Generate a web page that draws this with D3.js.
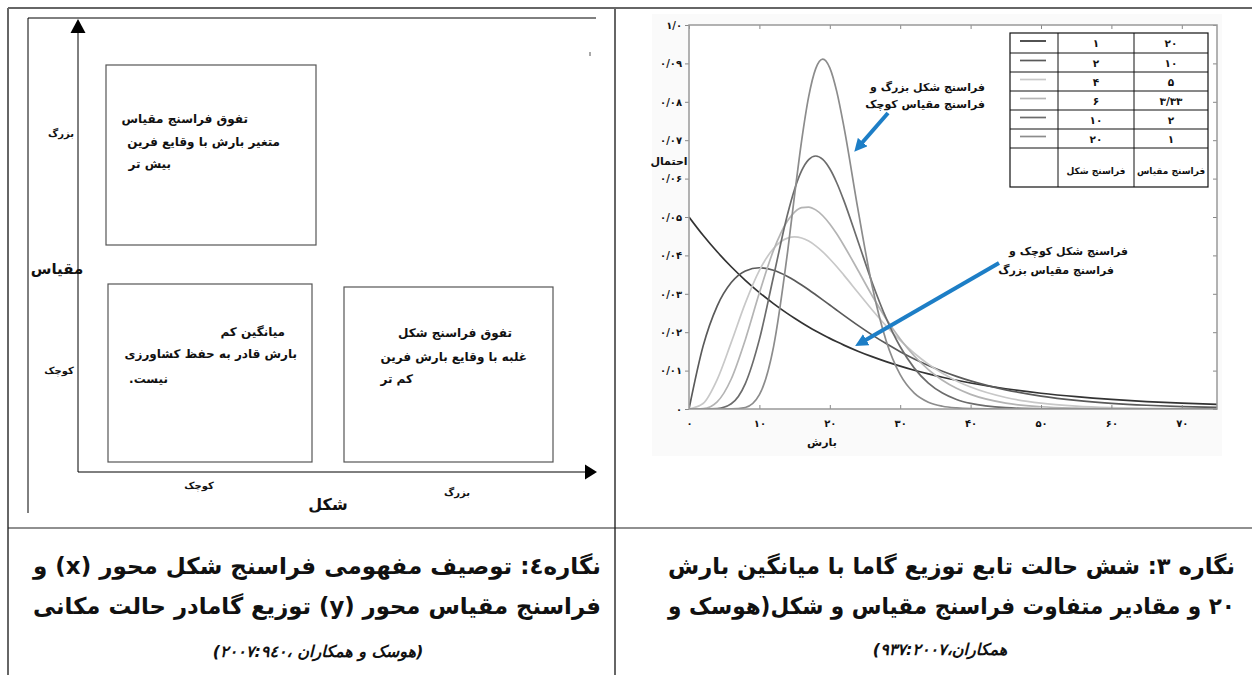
<!DOCTYPE html>
<meta charset="utf-8" />
<style>
  body { margin: 0; background: #fff; }
  text { font-family: "DejaVu Sans", sans-serif; fill: #111; }
  .fa { direction: rtl; font-weight: bold; }
</style>
<svg width="1252" height="675"></svg>
<script src="https://d3js.org/d3.v7.min.js"></script>
<script>
  // rainfall values (x) where the curves were read
  var rain = [0, 2, 4, 6, 8, 10, 12, 14, 15, 16, 17, 18, 19, 20, 21, 22, 24, 26, 28, 30,
    32, 34, 36, 38, 40, 45, 50, 55, 60, 65, 70, 75];

  // probability (shape / scale)
  var k1 = [0.05, 0.04524, 0.04094, 0.03704, 0.03352, 0.03033, 0.02744, 0.02483, 0.02362, 0.02247,
    0.02137, 0.02033, 0.01934, 0.01839, 0.0175, 0.01664, 0.01506, 0.01363, 0.01233, 0.01116,
    0.01009, 0.00913, 0.00826, 0.00748, 0.00677, 0.00527, 0.0041, 0.0032, 0.00249, 0.00194, 0.00151, 0.00118];
  var k2 = [0, 0.01637, 0.02681, 0.03293, 0.03595, 0.03679, 0.03614, 0.03452, 0.03347, 0.0323,
    0.03106, 0.02975, 0.02842, 0.02707, 0.02572, 0.02438, 0.02177, 0.01931, 0.01703, 0.01494,
    0.01304, 0.01135, 0.00984, 0.00851, 0.00733, 0.005, 0.00337, 0.00225, 0.00149, 0.00098, 0.00064, 0.00041];
  var k4 = [0, 0.00143, 0.00767, 0.01735, 0.02757, 0.03609, 0.04181, 0.0445, 0.0448, 0.04452,
    0.04372, 0.04249, 0.04092, 0.03907, 0.03705, 0.03486, 0.03034, 0.02586, 0.02165, 0.01785,
    0.01452, 0.01168, 0.00929, 0.00732, 0.00573, 0.003, 0.00151, 0.00074, 0.00035, 0.00017, 0.00008, 0.00003];
  var k6 = [0, 0.00011, 0.00187, 0.00781, 0.01806, 0.03025, 0.0413, 0.04901, 0.05126, 0.05243,
    0.05259, 0.05185, 0.05033, 0.04819, 0.04555, 0.04258, 0.03613, 0.02957, 0.02351, 0.01822,
    0.0138, 0.01027, 0.00749, 0.00539, 0.00382, 0.00154, 0.00058, 0.00021, 0.00007, 0.00002, 0.00001, 0];
  var k10 = [0, 0, 0.0001, 0.00135, 0.00662, 0.01813, 0.03443, 0.05071, 0.05722, 0.06205,
    0.06494, 0.06588, 0.065, 0.06255, 0.05886, 0.05426, 0.04368, 0.03302, 0.02367, 0.0162,
    0.01065, 0.00676, 0.00416, 0.00249, 0.00145, 0.00034, 0.00007, 0.00001, 0, 0, 0, 0];
  var k20 = [0, 0, 0, 0.00001, 0.0004, 0.00373, 0.01613, 0.04088, 0.05574, 0.06988,
    0.08135, 0.08865, 0.09112, 0.08884, 0.08258, 0.07353, 0.05197, 0.03215, 0.01779, 0.00894,
    0.00413, 0.00177, 0.00071, 0.00027, 0.0001, 0, 0, 0, 0, 0, 0, 0];

  var shapeLabels = ["۱", "۲", "۴", "۶", "۱۰", "۲۰"];
  var scaleLabels = ["۲۰", "۱۰", "۵", "۳/۳۳", "۲", "۱"];

  var yTicks = [0, 0.01, 0.02, 0.03, 0.04, 0.05, 0.06, 0.07, 0.08, 0.09, 0.1];
  var yTickLabels = ["۰", "۰/۰۱", "۰/۰۲", "۰/۰۳", "۰/۰۴", "۰/۰۵", "۰/۰۶", "۰/۰۷", "۰/۰۸", "۰/۰۹", "۱/۰"];
  var xTicks = [0, 10, 20, 30, 40, 50, 60, 70];
  var xTickLabels = ["۰", "۱۰", "۲۰", "۳۰", "۴۰", "۵۰", "۶۰", "۷۰"];

  var series = [k1, k2, k4, k6, k10, k20];
  var colors = ["#333", "#5a5a5a", "#c8c8c8", "#b4b4b4", "#6c6c6c", "#8c8c8c"];

  var svg = d3.select("svg");

  // ---------- table lines ----------
  var grid = svg.append("g");
  grid.append("line").attr("x1", 8).attr("x2", 1252).attr("y1", 8).attr("y2", 8)
    .attr("stroke", "#666").attr("stroke-width", 2);
  grid.append("line").attr("x1", 8).attr("x2", 8).attr("y1", 8).attr("y2", 675)
    .attr("stroke", "#666").attr("stroke-width", 2);
  grid.append("line").attr("x1", 615).attr("x2", 615).attr("y1", 8).attr("y2", 675)
    .attr("stroke", "#666").attr("stroke-width", 2);
  grid.append("line").attr("x1", 8).attr("x2", 1252).attr("y1", 528).attr("y2", 528)
    .attr("stroke", "#222").attr("stroke-width", 1.2);

  // ---------- left: conceptual diagram ----------
  var left = svg.append("g");
  left.append("path").attr("d", "M28,513V18H596").attr("fill", "none").attr("stroke", "#000");
  left.append("line").attr("x1", 590).attr("x2", 590).attr("y1", 52).attr("y2", 56).attr("stroke", "#555");

  left.append("line").attr("x1", 78).attr("x2", 78).attr("y1", 30).attr("y2", 472).attr("stroke", "#000");
  left.append("path").attr("d", "M78,19L70.5,33H85.5Z").attr("fill", "#000");
  left.append("line").attr("x1", 78).attr("x2", 586).attr("y1", 472).attr("y2", 472).attr("stroke", "#000");
  left.append("path").attr("d", "M597,472L585,464.5V479.5Z").attr("fill", "#000");

  var boxes = [
    { x: 106, y: 65, w: 210, h: 180 },
    { x: 108, y: 284, w: 204, h: 178 },
    { x: 344, y: 287, w: 209, h: 175 }
  ];
  left.selectAll("rect.box").data(boxes).join("rect")
    .attr("class", "box")
    .attr("x", d => d.x).attr("y", d => d.y).attr("width", d => d.w).attr("height", d => d.h)
    .attr("fill", "none").attr("stroke", "#555").attr("stroke-width", 1.2);

  var boxText = [
    ["تفوق فراسنج مقیاس", 248, 123],
    ["متغیر بارش با وقایع فرین", 280, 146],
    ["بیش تر", 171, 168],
    ["میانگین کم", 285, 336],
    ["بارش قادر به حفظ کشاورزی", 297, 358],
    ["نیست.", 168, 383],
    ["تفوق فراسنج شکل", 512, 337],
    ["غلبه با وقایع بارش فرین", 527, 361],
    ["کم تر", 413, 383]
  ];
  left.selectAll("text.bt").data(boxText).join("text")
    .attr("class", "bt fa")
    .attr("x", d => d[1]).attr("y", d => d[2])
    .attr("text-anchor", "start")
    .style("font-size", "12px")
    .text(d => d[0]);

  var axisText = [
    ["بزرگ", 61, 137, 10],
    ["کوچک", 59, 374, 10],
    ["مقیاس", 57, 274, 15],
    ["کوچک", 199, 489, 10],
    ["شکل", 328, 510, 16],
    ["بزرگ", 457, 496, 10]
  ];
  left.selectAll("text.at").data(axisText).join("text")
    .attr("class", "at")
    .attr("x", d => d[1]).attr("y", d => d[2])
    .attr("text-anchor", "middle")
    .style("direction", "rtl")
    .style("font-size", d => d[3] + "px")
    .style("font-weight", "bold")
    .text(d => d[0]);

  // ---------- right: gamma curves ----------
  var chart = svg.append("g");
  chart.append("rect").attr("x", 652).attr("y", 14).attr("width", 570).attr("height", 442)
    .attr("fill", "#fafafa");

  var x = d3.scaleLinear().domain([0, 75]).range([689, 1217]);
  var y = d3.scaleLinear().domain([0, 0.1]).range([409, 25]);

  chart.append("rect").attr("x", 689).attr("y", 25).attr("width", 528).attr("height", 384)
    .attr("fill", "#fff");

  svg.append("clipPath").attr("id", "plot").append("rect")
    .attr("x", 689).attr("y", 25).attr("width", 528).attr("height", 384);

  var line = d3.line().x((d, i) => x(rain[i])).y(d => y(d)).curve(d3.curveMonotoneX);
  chart.append("g").attr("clip-path", "url(#plot)")
    .selectAll("path").data(series).join("path")
    .attr("d", line)
    .attr("fill", "none")
    .attr("stroke", (d, i) => colors[i])
    .attr("stroke-width", 1.7);

  function styleAxis(g) {
    g.select(".domain").remove();
    g.selectAll(".tick line").attr("stroke", "#888");
    g.selectAll("text").style("font-size", "10px").style("font-weight", "bold").attr("fill", "#222");
  }
  chart.append("g").attr("transform", "translate(689,0)")
    .call(d3.axisLeft(y).tickValues(yTicks).tickFormat((d, i) => yTickLabels[i]).tickSize(4).tickPadding(3))
    .call(styleAxis);
  chart.append("g").attr("transform", "translate(0,409)")
    .call(d3.axisBottom(x).tickValues(xTicks).tickFormat((d, i) => xTickLabels[i]).tickSize(-4).tickPadding(11))
    .call(styleAxis);
  chart.append("g").attr("transform", "translate(0,25)")
    .call(d3.axisTop(x).tickValues(xTicks).tickFormat("").tickSize(-4))
    .call(styleAxis);
  chart.append("g").attr("transform", "translate(1217,0)")
    .call(d3.axisRight(y).tickValues(yTicks).tickFormat("").tickSize(-4))
    .call(styleAxis);

  chart.append("rect").attr("x", 689).attr("y", 25).attr("width", 528).attr("height", 384)
    .attr("fill", "none").attr("stroke", "#999").attr("stroke-width", 1.5);

  chart.append("text").attr("class", "fa").attr("x", 669).attr("y", 165)
    .attr("text-anchor", "middle").style("font-size", "11px").text("احتمال");
  chart.append("text").attr("class", "fa").attr("x", 822).attr("y", 446)
    .attr("text-anchor", "middle").style("font-size", "11px").text("بارش");

  // legend table
  var lg = chart.append("g");
  var colX = [1010, 1058, 1134, 1208];
  var rowY = [33, 53, 72, 91, 110, 129, 148, 187];
  lg.append("rect").attr("x", 1010).attr("y", 33).attr("width", 198).attr("height", 154)
    .attr("fill", "#fff").attr("stroke", "#111").attr("stroke-width", 1.2);
  lg.selectAll("line.r").data(rowY.slice(1, 7)).join("line").attr("class", "r")
    .attr("x1", 1010).attr("x2", 1208).attr("y1", d => d).attr("y2", d => d)
    .attr("stroke", "#111");
  lg.selectAll("line.c").data(colX.slice(1, 3)).join("line").attr("class", "c")
    .attr("x1", d => d).attr("x2", d => d).attr("y1", 33).attr("y2", 187)
    .attr("stroke", "#111");
  lg.selectAll("line.s").data(colors).join("line").attr("class", "s")
    .attr("x1", 1020).attr("x2", 1046)
    .attr("y1", (d, i) => (rowY[i] + rowY[i + 1]) / 2 - 2).attr("y2", (d, i) => (rowY[i] + rowY[i + 1]) / 2 - 2)
    .attr("stroke", d => d).attr("stroke-width", 1.7);
  lg.selectAll("text.sh").data(shapeLabels).join("text").attr("class", "sh fa")
    .attr("x", 1096).attr("y", (d, i) => (rowY[i] + rowY[i + 1]) / 2 + 4)
    .attr("text-anchor", "middle").style("font-size", "10.5px").text(d => d);
  lg.selectAll("text.sc").data(scaleLabels).join("text").attr("class", "sc fa")
    .attr("x", 1171).attr("y", (d, i) => (rowY[i] + rowY[i + 1]) / 2 + 4)
    .attr("text-anchor", "middle").style("font-size", "10.5px").text(d => d);
  lg.append("text").attr("class", "fa").attr("x", 1096).attr("y", 174)
    .attr("text-anchor", "middle").style("font-size", "9px").text("فراسنج شکل");
  lg.append("text").attr("class", "fa").attr("x", 1171).attr("y", 174)
    .attr("text-anchor", "middle").style("font-size", "9px").text("فراسنج مقیاس");

  // annotations and blue arrows
  svg.append("defs").append("marker").attr("id", "head")
    .attr("viewBox", "0 0 10 10").attr("refX", 2).attr("refY", 5)
    .attr("markerWidth", 3.2).attr("markerHeight", 3.2).attr("orient", "auto")
    .append("path").attr("d", "M0,0L10,5L0,10Z").attr("fill", "#1d7ec6");

  var notes = [
    ["فراسنج شکل بزرگ و", 985, 91],
    ["فراسنج مقیاس کوچک", 985, 108],
    ["فراسنج شکل کوچک و", 1128, 255],
    ["فراسنج مقیاس بزرگ", 1114, 274]
  ];
  chart.selectAll("text.note").data(notes).join("text").attr("class", "note fa")
    .attr("x", d => d[1]).attr("y", d => d[2])
    .attr("text-anchor", "start").style("font-size", "11px").text(d => d[0]);

  var arrows = [[888, 113, 861, 144], [999, 263, 864, 341]];
  chart.selectAll("line.arrow").data(arrows).join("line").attr("class", "arrow")
    .attr("x1", d => d[0]).attr("y1", d => d[1]).attr("x2", d => d[2]).attr("y2", d => d[3])
    .attr("stroke", "#1d7ec6").attr("stroke-width", 4)
    .attr("marker-end", "url(#head)");

  // ---------- captions ----------
  function justify(t, width) {
    var len = t.node().getComputedTextLength();
    var gaps = (t.text().match(/ /g) || []).length;
    if (len > width) t.attr("textLength", width).attr("lengthAdjust", "spacingAndGlyphs");
    else t.style("word-spacing", ((width - len) / gaps) + "px");
  }

  var captions = [
    ["نگاره ۳: شش حالت تابع توزیع گاما با میانگین بارش", 1235, 574, 567],
    ["۲۰ و مقادیر متفاوت فراسنج مقیاس و شکل(هوسک و", 1235, 614, 567],
    ["نگاره٤: توصیف مفهومی فراسنج شکل محور (x) و", 601, 574, 568],
    ["فراسنج مقیاس محور (y) توزیع گامادر حالت مکانی", 601, 614, 568]
  ];
  captions.forEach(function (c) {
    var t = svg.append("text").attr("class", "fa")
      .attr("x", c[1]).attr("y", c[2]).attr("text-anchor", "start")
      .style("font-size", "23px").text(c[0]);
    justify(t, c[3]);
  });

  var refs = [
    ["همکاران،۹۳۷:۲۰۰۷)", 940, 655],
    ["(هوسک و همکاران ،۲۰۰۷:۹٤۰)", 318, 657]
  ];
  svg.selectAll("text.ref").data(refs).join("text").attr("class", "ref fa")
    .attr("x", d => d[1]).attr("y", d => d[2]).attr("text-anchor", "middle")
    .style("font-size", "16px").style("font-style", "italic").text(d => d[0]);
</script>
